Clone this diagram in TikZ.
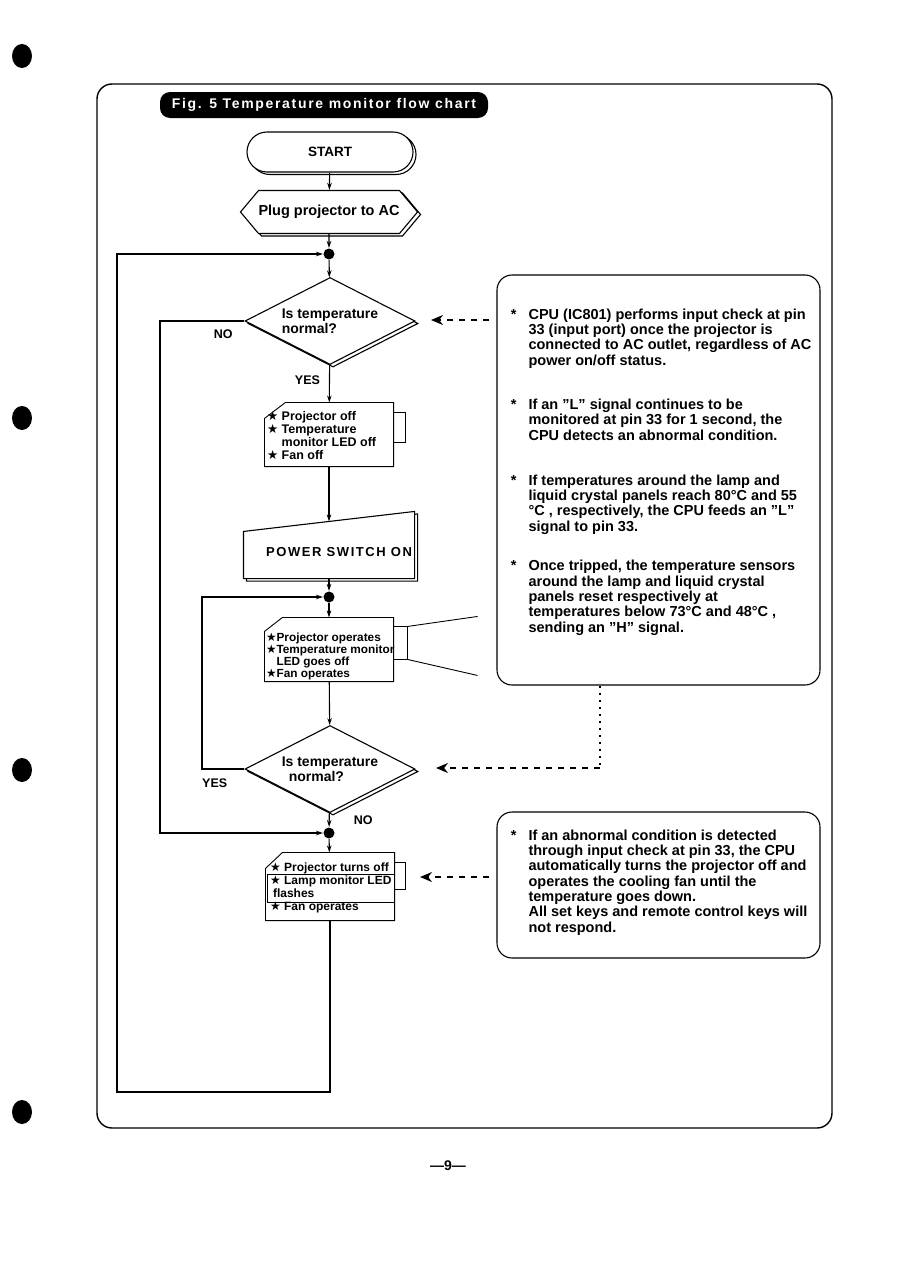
\documentclass[tikz,border=0pt]{standalone}
\usepackage{fontspec}
\setmainfont{Liberation Sans}
\newfontfamily\starfont{DejaVu Sans}
\usetikzlibrary{
  arrows.meta,
  calc,
  positioning,
  shapes.geometric,
  shapes.symbols,
  shapes.misc,
  shadows
}
\newcommand{\fsz}[2]{\fontsize{#1}{#2}\selectfont\bfseries}
\newcommand{\st}{{\starfont ★}}
\newcommand{\sind}{\hphantom{\st\ }}
\newcommand{\nstar}{\llap{*\hspace{12pt}}}
\tikzset{
  >={Stealth[length=7pt,width=4.5pt]},
  line cap=round,
  line join=round,
  every picture/.style={line width=1.1pt},
  dropcopy/.style={copy shadow={shadow xshift=3pt, shadow yshift=-2.5pt}},
  titlebar/.style={fill=black, text=white, rounded corners=10pt, minimum width=328pt, minimum height=26pt, inner sep=0pt,
    font=\fsz{14}{14}\addfontfeature{LetterSpace=12}},
  termbox/.style={rounded rectangle, draw, fill=white, minimum width=166pt, minimum height=40pt, inner sep=0pt, font=\fsz{13.5}{14}, dropcopy},
  prepbox/.style={signal, signal to=west and east, signal pointer angle=100, draw, fill=white, minimum width=177pt, minimum height=43pt, inner sep=0pt, font=\fsz{14.5}{15}, dropcopy},
  testbox/.style={diamond, draw, fill=white, aspect=2, minimum width=170pt, minimum height=87pt, inner sep=0pt, align=left, font=\fsz{14}{14.5}, dropcopy},
  showbox/.style={rectangle, minimum width=128pt, inner sep=0pt},
  showline/.style={line width=0.9pt},
  showtxt/.style={inner sep=0pt, align=left, anchor=north west},
  junction/.style={circle, fill, inner sep=0pt, minimum size=11pt},
  flowlbl/.style={font=\fsz{12.5}{13}, inner sep=0pt},
  notebox/.style={draw, rounded corners=15pt, minimum width=323pt, inner sep=0pt},
  notetxt/.style={font=\fsz{14.5}{15.3}, align=left, inner sep=0pt, anchor=base west},
  checkarrow/.style={-{Stealth[length=12pt,width=10pt]}, line width=1.8pt, dash pattern=on 6pt off 6pt},
  tapline/.style={line width=1.8pt, dash pattern=on 2pt off 5pt}
}
\begin{document}
\begin{tikzpicture}[x=1pt, y=-1pt]
  \useasboundingbox (0,0) rectangle (906,1263);

  % punch holes and page number
  \foreach \yy in {56,418,770,1112}
    \fill (22,\yy) ellipse [x radius=10pt, y radius=12pt];
  \node[font=\fsz{14}{14}] (pageno) at (448,1166) {\textemdash 9\textemdash};

  % frame and title
  \draw[line width=1.4pt, rounded corners=15pt] (97,84) rectangle (832,1128);
  \node[titlebar] (title) at (324,105) {Fig. 5 Temperature monitor flow chart};

  % main column
  \node[termbox] (start) at (330,152) {START};
  \node[prepbox] (plug) at (329,212) {Plug projector to AC};
  \node[junction] (dot1) at (329,254) {};
  \node[testbox] (dec1) at (330,321) {Is temperature\\normal?};

  \node[showbox, minimum height=63pt] (out1) at (329,434.5) {};
  \draw[showline] (out1.south west) -- (out1.south east) -- (out1.north east)
    -- ([xshift=21pt]out1.north west) -- ([yshift=-16pt]out1.north west) -- cycle;
  \draw[showline] ([yshift=-10pt]out1.north east) rectangle ++(12,30);
  \node[showtxt, font=\fsz{12.5}{13.3}] (out1t) at ([shift={(2pt,-8pt)}]out1.north west)
    {\st\ Projector off\\\st\ Temperature\\\sind monitor LED off\\\st\ Fan off};

  \node[showbox, minimum width=170pt, minimum height=66pt] (power) at (329,545) {};
  \draw[fill=white, dropcopy] (power.south west) -- (power.south east) -- (power.north east)
    -- ([yshift=-20pt]power.north west) -- cycle;
  \node[inner sep=0pt, anchor=east, font=\fsz{13}{13}\addfontfeature{LetterSpace=12}] (powert)
    at ([shift={(-2pt,-7pt)}]power.east) {POWER SWITCH ON};
  \coordinate (pwin) at ($(power.north)+(0,10)$);

  \node[junction] (dot2) at (329,597) {};

  \node[showbox, minimum height=63pt] (out2) at (329,649.5) {};
  \draw[showline] (out2.south west) -- (out2.south east) -- (out2.north east)
    -- ([xshift=18pt]out2.north west) -- ([yshift=-14pt]out2.north west) -- cycle;
  \draw[showline] ([yshift=-9pt]out2.north east) rectangle ++(14,33);
  \draw[showline] ([shift={(14pt,-9pt)}]out2.north east) -- ++(70,-10);
  \draw[showline] ([shift={(14pt,-42pt)}]out2.north east) -- ++(70,16);
  \node[showtxt, font=\fsz{11.8}{12}] (out2t) at ([shift={(1pt,-15pt)}]out2.north west)
    {\st Projector operates\\\st Temperature monitor\\\hphantom{\st}LED goes off\\\st Fan operates};

  \node[testbox] (dec2) at (330,769) {Is temperature\\\hspace*{7pt}normal?};
  \node[junction] (dot3) at (329,833) {};

  \node[showbox, minimum height=67pt] (out3) at (330,886.5) {};
  \draw[showline] (out3.south west) -- (out3.south east) -- (out3.north east)
    -- ([xshift=17pt]out3.north west) -- ([yshift=-16pt]out3.north west) -- cycle;
  \draw[showline] ([yshift=-10pt]out3.north east) rectangle ++(11,27);
  \draw[showline] ([shift={(2pt,-22pt)}]out3.north west) rectangle ([yshift=-50pt]out3.north east);
  \node[showtxt, font=\fsz{12}{13}] (out3t) at ([shift={(4pt,-10pt)}]out3.north west)
    {\st\ Projector turns off\\\st\ Lamp monitor LED\\\hspace*{3pt}flashes\\\st\ Fan operates};

  % flow
  \draw[->] (start) -- (plug);
  \draw[->] (plug) -- (dot1);
  \draw[->] (dot1) -- (dec1);
  \draw[->] (dec1) -- node[flowlbl, pos=0.4, left=9pt] {YES} (out1);
  \draw[->] (out1) -- (pwin);
  \draw[->] (power) -- (dot2);
  \draw[->] (dot2) -- (out2);
  \draw[->] (out2) -- (dec2);
  \draw[->] (dec2) -- node[flowlbl, right=24pt] {NO} (dot3);
  \draw[->] (dot3) -- (out3);

  % loops
  \coordinate (nox) at (160,0);
  \coordinate (yesx) at (202,0);
  \coordinate (loopbase) at (117,1092);
  \draw[->] (dec1.west) -- node[flowlbl, pos=0.25, below=8pt] {NO} (dec1.west -| nox) |- (dot3);
  \draw[->] (dec2.west) -- node[flowlbl, pos=0.7, below=9pt] {YES} (dec2.west -| yesx) |- (dot2);
  \draw[->] (out3) |- (loopbase) |- (dot1);

  % notes (anchored at the baseline of the last line)
  \node[notebox, minimum height=410pt] (note1) at (658.5,480) {};
  \node[notetxt] (n1a) at (528,365) {\nstar CPU (IC801) performs input check at pin\\33 (input port) once the projector is\\connected to AC outlet, regardless of AC\\power on/off status.};
  \node[notetxt] (n1b) at (528,440) {\nstar If an "L" signal continues to be\\monitored at pin 33 for 1 second, the\\CPU detects an abnormal condition.};
  \node[notetxt] (n1c) at (528,531) {\nstar If temperatures around the lamp and\\liquid crystal panels reach 80°C  and 55\\°C , respectively, the CPU feeds an "L"\\signal to pin 33.};
  \node[notetxt] (n1d) at (528,632) {\nstar Once tripped, the temperature sensors\\around the lamp and liquid crystal\\panels reset respectively at\\temperatures below 73°C  and 48°C ,\\sending an "H" signal.};

  \node[notebox, minimum height=146pt] (note2) at (658.5,885) {};
  \node[notetxt] (n2a) at (528,932) {\nstar If an abnormal condition is detected\\through input check at pin 33, the CPU\\automatically turns the projector off and\\operates the cooling fan until the\\temperature goes down.\\All set keys and remote control keys will\\not respond.};

  % check arrows
  \coordinate (chk1) at (431,320);
  \draw[checkarrow] ([xshift=-7pt]note1.west |- chk1) -- (chk1);
  \coordinate (tap) at (600,768);
  \coordinate (chk2) at (436,768);
  \draw[tapline] (note1.south -| tap) -- (tap);
  \draw[checkarrow] (tap) -- (chk2);
  \coordinate (chk3) at (420,877);
  \draw[checkarrow] ([xshift=-7pt]note2.west |- chk3) -- (chk3);
\end{tikzpicture}
\end{document}
